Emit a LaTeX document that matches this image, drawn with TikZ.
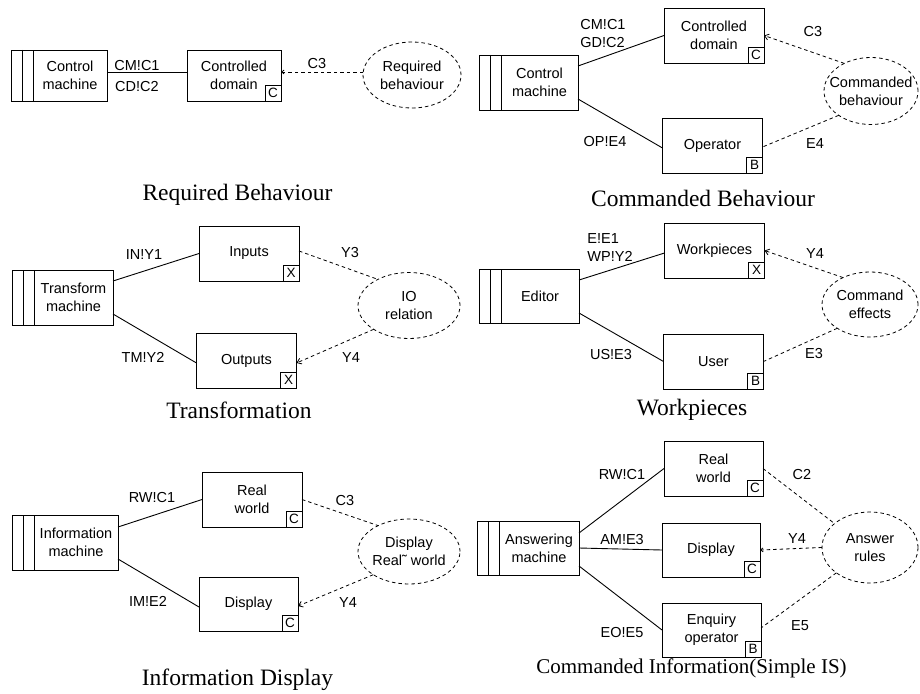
\documentclass[tikz,border=0pt]{standalone}
\usepackage{fontspec}
\setmainfont{Liberation Serif}
\setsansfont{Liberation Sans}
\usetikzlibrary{shapes.geometric,arrows.meta}

\begin{document}
\begin{tikzpicture}[x=1pt, y=-1pt, line width=0.9pt,
    every node/.style={font=\sffamily\fontsize{14.5}{18}\selectfont, inner sep=1pt, outer sep=0pt},
    machinebox/.style={draw, minimum width=79pt, minimum height=55pt, align=center},
    domainbox/.style={draw, minimum width=100pt, minimum height=55pt, align=center},
    markbox/.style={draw, minimum size=16pt, inner sep=0pt, anchor=south east,
        font=\sffamily\fontsize{13.5}{13.5}\selectfont},
    reqline/.style={line width=0.8pt, dash pattern=on 3.5pt off 3pt},
    reqoval/.style={draw, ellipse, reqline, align=center, inner xsep=-12pt, inner ysep=0pt,
        minimum width=100pt, minimum height=66pt},
    reqtip/.style={-{Straight Barb[length=4pt,width=6pt]}},
    smallreqtip/.style={-{Straight Barb[length=2.5pt,width=4pt]}},
    titletext/.style={font=\rmfamily\fontsize{23.5}{28}\selectfont},
    ]

    \useasboundingbox (0,0) rectangle (920,693);

    % Required Behaviour
    \node[machinebox, minimum width=74pt, minimum height=51pt] (m1) at (70,75.5) {Control\\machine};
    \node[domainbox, minimum width=94pt, minimum height=51pt] (d1) at (234,75.5) {Controlled\\domain};
    \node[markbox] (d1c) at (d1.south east) {C};
    \node[reqoval, minimum width=98pt] (r1) at (412,75) {Required\\behaviour};
    \draw ([yshift=3.5pt]m1.east) -- ([yshift=3.5pt]d1.west);
    \node (l1a) at (137,66) {CM!C1};
    \node (l1b) at (137,87) {CD!C2};
    \draw[reqline, smallreqtip] ([yshift=3pt]r1.west) -- ([yshift=3.5pt]d1.east);
    \node (l1c) at (317,64) {C3};
    \node[titletext] (t1) at (237.5,195) {Required Behaviour};

    % Commanded Behaviour
    \node[machinebox, minimum width=77pt] (m2) at (539.5,82.5) {Control\\machine};
    \node[domainbox] (d2) at (714,35.5) {Controlled\\domain};
    \node[domainbox] (o2) at (712.5,145.5) {Operator};
    \node[markbox] (d2c) at (d2.south east) {C};
    \node[markbox] (o2c) at (o2.south east) {B};
    \node[reqoval, minimum width=94pt, minimum height=67pt] (r2) at (871,91) {Commanded\\behaviour};
    \draw ([yshift=16.5pt]m2.east) -- (d2.west);
    \draw ([yshift=-16.5pt]m2.east) -- ([yshift=-2.5pt]o2.west);
    \node[align=left] (l2a) at (603,33.5) {CM!C1\\GD!C2};
    \node (l2b) at (605,142) {OP!E4};
    \draw[reqline, reqtip] (r2.134) -- (d2.east);
    \draw[reqline] (r2.217) -- ([yshift=-1.5pt]o2.east);
    \node (l2c) at (813,32) {C3};
    \node (l2d) at (815,144) {E4};
    \node[titletext] (t2) at (703,198) {Commanded Behaviour};

    % Transformation
    \node[machinebox] (m3) at (73.5,297.5) {Transform\\machine};
    \node[domainbox] (d3) at (249,253.5) {Inputs};
    \node[domainbox] (o3) at (246.5,360.5) {Outputs};
    \node[markbox] (d3c) at (d3.south east) {X};
    \node[markbox] (o3c) at (o3.south east) {X};
    \node[reqoval, minimum width=102pt] (r3) at (409,305.5) {IO\\relation};
    \draw ([yshift=16.5pt]m3.east) -- (d3.west);
    \draw ([yshift=-16.5pt]m3.east) -- ([yshift=-2.5pt]o3.west);
    \node (l3a) at (144,255) {IN!Y1};
    \node (l3b) at (143,357) {TM!Y2};
    \draw[reqline] ([yshift=2.5pt]d3.east) -- (r3.140);
    \draw[reqline, reqtip] (r3.214) -- ([yshift=-2.5pt]o3.east);
    \node (l3c) at (350,253) {Y3};
    \node (l3d) at (351,358) {Y4};
    \node[titletext] (t3) at (239,410) {Transformation};

    % Workpieces
    \node[machinebox, minimum width=78pt, minimum height=54pt] (m4) at (540,296) {Editor};
    \node[domainbox] (d4) at (714.5,250.5) {Workpieces};
    \node[domainbox] (u4) at (713.5,361.5) {User};
    \node[markbox] (d4c) at (d4.south east) {X};
    \node[markbox] (u4c) at (u4.south east) {B};
    \node[reqoval, minimum width=96pt, minimum height=65pt] (r4) at (870,304.5) {Command\\effects};
    \draw ([yshift=16pt]m4.east) -- ([yshift=-2.5pt]d4.west);
    \draw ([yshift=-17pt]m4.east) -- (u4.west);
    \node[align=left] (l4a) at (610,248) {E!E1\\WP!Y2};
    \node (l4b) at (611,355) {US!E3};
    \draw[reqline, reqtip] (r4.135) -- (d4.east);
    \draw[reqline] (r4.216) -- (u4.east);
    \node (l4c) at (815,254) {Y4};
    \node (l4d) at (814,354) {E3};
    \node[titletext] (t4) at (692,410) {Workpieces};

    % Information Display
    \node[machinebox, minimum width=84pt] (m5) at (76,542.5) {Information\\machine};
    \node[domainbox] (d5) at (252,499.5) {Real\\world};
    \node[domainbox, minimum width=99pt, minimum height=54pt] (p5) at (248.5,604) {Display};
    \node[markbox] (d5c) at (d5.south east) {C};
    \node[markbox] (p5c) at (p5.south east) {C};
    \node[reqoval, minimum width=102pt, minimum height=65pt] (r5) at (409,551.5) {Display\\Real˜ world};
    \draw ([yshift=15.5pt]m5.east) -- (d5.west);
    \draw ([yshift=-16.5pt]m5.east) -- ([yshift=-3pt]p5.west);
    \node (l5a) at (152,498) {RW!C1};
    \node (l5b) at (148,601) {IM!E2};
    \draw[reqline] (d5.east) -- (r5.140);
    \draw[reqline, reqtip] (r5.213) -- ([yshift=-2pt]p5.east);
    \node (l5c) at (345,501) {C3};
    \node (l5d) at (348,603) {Y4};
    \node[titletext] (t5) at (237.5,680) {Information Display};

    % Commanded Information
    \node[machinebox, minimum width=80pt, minimum height=54pt] (m6) at (539,548) {Answering\\machine};
    \node[domainbox, minimum width=99pt] (d6) at (713.5,468.5) {Real\\world};
    \node[domainbox, minimum width=98pt, minimum height=54pt] (p6) at (711,550) {Display};
    \node[domainbox, minimum width=99pt, minimum height=54pt] (e6) at (711.5,630) {Enquiry\\operator};
    \node[markbox] (d6c) at (d6.south east) {C};
    \node[markbox] (p6c) at (p6.south east) {C};
    \node[markbox] (e6c) at (e6.south east) {B};
    \node[reqoval, minimum width=96pt, minimum height=71pt] (r6) at (870,547.5) {Answer\\rules};
    \draw ([yshift=15pt]m6.east) -- (d6.west);
    \draw (m6.east) -- (p6.west);
    \draw ([yshift=-18pt]m6.east) -- (e6.west);
    \node (l6a) at (622,475) {RW!C1};
    \node (l6b) at (622,540) {AM!E3};
    \node (l6c) at (622,632) {EO!E5};
    \draw[reqline] (d6.east) -- (r6.146);
    \draw[reqline, smallreqtip] (r6.west) -- (p6.east);
    \draw[reqline] (r6.217) -- ([yshift=2pt]e6.east);
    \node (l6d) at (802,475) {C2};
    \node (l6e) at (797,539) {Y4};
    \node (l6f) at (800,626) {E5};
    \node[titletext, font=\rmfamily\fontsize{21}{25}\selectfont] (t6) at (691.5,668) {Commanded Information(Simple IS)};

    % machine stripes
    \foreach \m in {m1,m2,m3,m4,m5,m6}{
        \draw ([xshift=-22pt]\m.north west) rectangle (\m.south west);
        \draw ([xshift=-11pt]\m.north west) -- ([xshift=-11pt]\m.south west);
    }
\end{tikzpicture}
\end{document}
